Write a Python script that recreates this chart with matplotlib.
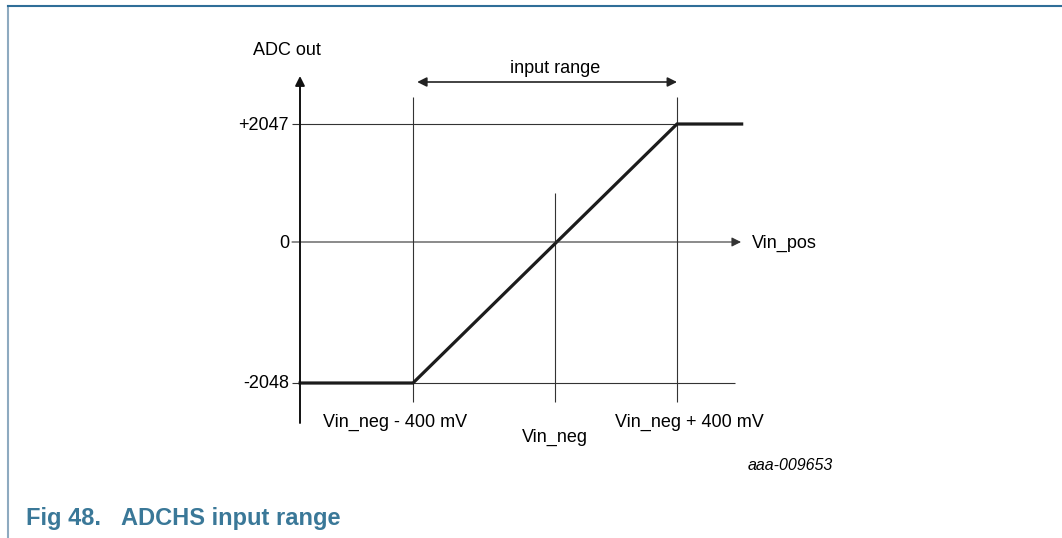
import matplotlib

matplotlib.use("Agg")
import matplotlib.pyplot as plt
from matplotlib.lines import Line2D
import numpy as np

plt.rcParams["font.family"] = ["Liberation Sans", "DejaVu Sans"]

# transfer characteristic: input relative to Vin_neg (mV) -> ADC code
vin_mv = [-718, -400, 400, 612]
adc_code = [-2048, -2048, 2047, 2047]

code_levels = [2047, 0, -2048]
code_labels = ["+2047", "0", "-2048"]

input_marks = [-400, 0, 400]
input_labels = ["Vin_neg - 400 mV", "Vin_neg", "Vin_neg + 400 mV"]

W, H = 1062, 538
X0, Y0 = 555, 242  # pixel position of (0 mV, code 0)
INK = "#333333"
CURVE = "#1c1c1c"
BLUE = "#3a7898"


def piecewise(neg, pos):
    # schematic (not to scale) axis: different stretch on each side of zero
    def fwd(v):
        v = np.asarray(v, dtype=float)
        return np.where(v < 0, v * neg, v * pos)

    def inv(p):
        p = np.asarray(p, dtype=float)
        return np.where(p < 0, p / neg, p / pos)

    return fwd, inv


fx, ix = piecewise(142 / 400, 122 / 400)
fy, iy = piecewise(141 / 2048, 118 / 2047)


def X(px):
    return float(ix(px - X0))


def Y(py):
    return float(iy(Y0 - py))


fig = plt.figure(figsize=(W / 100, H / 100), dpi=100)
ax = fig.add_axes([0, 0, 1, 1])
ax.set_xscale("function", functions=(fx, ix))
ax.set_yscale("function", functions=(fy, iy))
ax.set_xlim(X(0), X(W))
ax.set_ylim(Y(H), Y(0))
ax.axis("off")

thin = dict(color=INK, linewidth=0.8, solid_capstyle="butt")

# code level lines
ax.plot([X(292), vin_mv[-1]], [code_levels[0]] * 2, **thin)
ax.plot([X(292), X(735)], [code_levels[2]] * 2, **thin)
ax.annotate(
    "", xy=(X(741), code_levels[1]), xytext=(X(292), code_levels[1]),
    arrowprops=dict(arrowstyle="-|>", color=INK, lw=0.8, mutation_scale=14,
                    shrinkA=0, shrinkB=0),
)

# input marker verticals
tops = [Y(97), Y(193), Y(97)]
for mark, top in zip(input_marks, tops):
    ax.plot([mark, mark], [Y(402), top], **thin)

# y axis
ax.annotate(
    "", xy=(X(300), Y(76)), xytext=(X(300), Y(423)),
    arrowprops=dict(arrowstyle="-|>", color="#111111", lw=1.4, mutation_scale=14,
                    shrinkA=0, shrinkB=0),
)

# input range arrow
ax.annotate(
    "", xy=(input_marks[2], Y(82)), xytext=(input_marks[0], Y(82)),
    arrowprops=dict(arrowstyle="<|-|>", color="#222222", lw=1.2, mutation_scale=14,
                    shrinkA=3, shrinkB=0),
)
ax.text(input_marks[1], Y(73), "input range", ha="center", va="baseline", fontsize=13)

# transfer curve
ax.plot(vin_mv, adc_code, color=CURVE, linewidth=2.3, solid_joinstyle="miter")

# labels
for level, label, base in zip(code_levels, code_labels, [130, 248, 388]):
    ax.text(X(289), Y(base), label, ha="right", va="baseline", fontsize=13)

for mark, label, dx, base in zip(input_marks, input_labels, [-18, 0, 12], [427, 442, 427]):
    ax.annotate(label, xy=(mark, Y(base)), xytext=(dx, 0), textcoords="offset pixels",
                ha="center", va="baseline", fontsize=13)

ax.text(X(287), Y(55), "ADC out", ha="center", va="baseline", fontsize=13)
ax.text(X(752), Y(248), "Vin_pos", ha="left", va="baseline", fontsize=13)
ax.text(X(833), Y(470), "aaa-009653", ha="right", va="baseline", fontsize=11.5,
        style="italic")

# frame and caption
fig.add_artist(Line2D([8 / W, 8 / W], [0, 1 - 6 / H], transform=fig.transFigure,
                      color="#8eaac0", linewidth=1.5))
fig.add_artist(Line2D([8 / W, 1], [1 - 6 / H, 1 - 6 / H], transform=fig.transFigure,
                      color="#2f6e98", linewidth=1.5))
fig.text(26 / W, 1 - 525 / H, "Fig 48.", color=BLUE, fontsize=17,
         fontweight="bold", va="baseline")
fig.text(121 / W, 1 - 525 / H, "ADCHS input range", color=BLUE, fontsize=17,
         fontweight="bold", va="baseline")

fig.savefig("out.png", dpi=100)
